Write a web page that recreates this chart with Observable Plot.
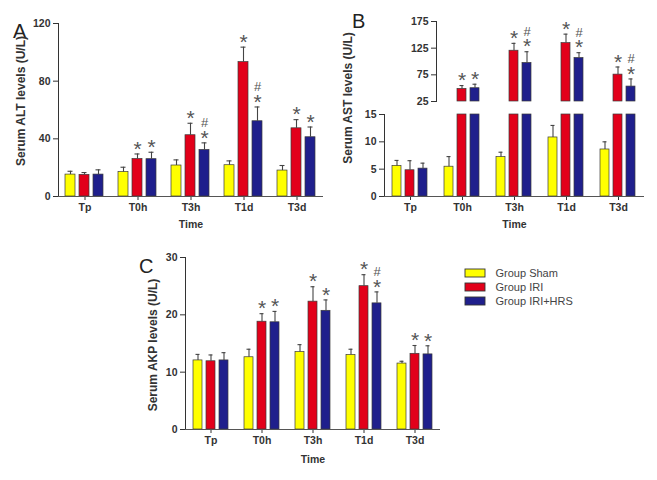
<!DOCTYPE html>
<html><head><meta charset="utf-8">
<script src="https://cdn.jsdelivr.net/npm/d3@7"></script>
<script src="https://cdn.jsdelivr.net/npm/@observablehq/plot@0.6"></script>
<style>
body{margin:0;background:#fff;}
#wrap{position:relative;width:657px;height:480px;background:#fff;overflow:hidden;font-family:"Liberation Sans",Arial,sans-serif;}
.letter{position:absolute;font-size:20px;color:#222;line-height:20px;}
.ytitle{position:absolute;width:220px;height:14px;text-align:center;font-weight:bold;font-size:12px;color:#333;transform:rotate(-90deg);line-height:14px;white-space:nowrap;}
</style></head><body><div id="wrap"></div>
<script>
const times = ["Tp", "T0h", "T3h", "T1d", "T3d"];
const groups = ["Group Sham", "Group IRI", "Group IRI+HRS"];
const colors = ["#ffff00", "#e2001a", "#1f1f8c"];
const noSig = ["", "", "", "", ""];

// Panel A: serum ALT (mean, error)
const altSham = [15.2, 16.9, 21.5, 21.7, 18.0];
const altShamErr = [2.3, 3.4, 3.9, 3.0, 3.5];
const altIri = [15.0, 26.0, 42.5, 93.2, 47.3];
const altIriErr = [1.6, 3.5, 8.3, 10.4, 6.0];
const altHrs = [15.2, 25.9, 32.3, 52.2, 41.1];
const altHrsErr = [3.3, 4.8, 4.9, 9.9, 7.1];
const altIriSig = ["", "*", "*", "*", "*"];
const altHrsSig = ["", "*", "*#", "*#", "*"];
const altTicks = [0, 40, 80, 120];

// Panel B: serum AST (broken axis)
const astSham = [5.6, 5.45, 7.2, 10.8, 8.6];
const astShamErr = [1.0, 1.85, 0.9, 2.2, 1.4];
const astIri = [4.8, 48.6, 120.2, 134.5, 75.4];
const astIriErr = [1.75, 6.3, 13.8, 16.8, 14.3];
const astHrs = [5.1, 49.9, 97.2, 106.5, 53.0];
const astHrsErr = [1.0, 7.5, 21.1, 10.0, 14.3];
const astIriSig = ["", "*", "*", "*", "*"];
const astHrsSig = ["", "*", "*#", "*#", "*#"];
const astTicksLow = [0, 5, 10, 15];
const astTicksHigh = [25, 75, 125, 175];

// Panel C: serum AKP
const akpSham = [12.05, 12.6, 13.5, 13.0, 11.5];
const akpShamErr = [1.05, 1.4, 1.3, 1.0, 0.4];
const akpIri = [11.9, 18.8, 22.3, 25.0, 13.2];
const akpIriErr = [1.1, 1.4, 2.6, 2.0, 1.45];
const akpHrs = [12.05, 18.7, 20.7, 22.0, 13.1];
const akpHrsErr = [1.35, 1.9, 1.9, 2.0, 1.5];
const akpIriSig = ["", "*", "*", "*", "*"];
const akpHrsSig = ["", "*", "*", "*#", "*"];
const akpTicks = [0, 10, 20, 30];

function table(means, errs, sigs) {
  const out = [];
  groups.forEach((g, gi) => times.forEach((t, ti) => out.push({
    time: t, group: g, value: means[gi][ti], top: means[gi][ti] + errs[gi][ti], sig: sigs[gi][ti]
  })));
  return out;
}

const wrap = document.getElementById("wrap");
const FONT = "Liberation Sans, Arial, sans-serif";

function place(svg, left, top) {
  svg.style.position = "absolute";
  svg.style.left = left + "px";
  svg.style.top = top + "px";
  wrap.appendChild(svg);
}

function panel(data, o) {
  const bars = o.barFilter ? data.filter(o.barFilter) : data;
  const errs = o.errFilter ? data.filter(o.errFilter) : data;
  const marks = [
    Plot.barY(bars, {fx: "time", x: "group", y: "value", fill: "group", stroke: "#3a3a3a", strokeWidth: 0.7}),
    Plot.ruleX(errs, {fx: "time", x: "group", y1: "value", y2: "top", stroke: "#444", strokeWidth: 1.1}),
    Plot.tickY(errs, {fx: "time", x: "group", y: "top", stroke: "#444", strokeWidth: 1.1, insetLeft: 2.5, insetRight: 2.5})
  ];
  if (o.sig) {
    marks.push(Plot.text(errs.filter(d => d.sig.includes("*")), {fx: "time", x: "group", y: "top", text: d => "*", dy: -3, fontSize: 21, fontWeight: "normal", fill: "#555", lineHeight: 0.7}));
    marks.push(Plot.text(errs.filter(d => d.sig.includes("#")), {fx: "time", x: "group", y: "top", text: d => "#", dy: -20, fontSize: 13, fontWeight: "normal", fill: "#555"}));
  }
  if (o.xAxis) marks.push(Plot.ruleY([o.domain[0]], {stroke: "#555", strokeWidth: 1.1}));
  const svg = Plot.plot({
    width: o.width, height: o.height,
    marginLeft: o.ml, marginRight: o.mr, marginTop: o.mt, marginBottom: o.mb,
    style: {background: "transparent", fontFamily: FONT, fontSize: "10.5px", fontWeight: "bold", color: "#333", overflow: "visible"},
    fx: {domain: times, padding: 0, axis: o.xAxis ? "bottom" : null, label: o.xAxis ? "Time" : null, labelAnchor: "center", labelOffset: o.labelOffset, tickSize: 4, tickPadding: 3},
    x: {domain: groups, paddingInner: 0.28, paddingOuter: 0.5, axis: null},
    y: {domain: o.domain, ticks: o.ticks, clamp: true, line: true, label: null, tickSize: 5, tickPadding: 3},
    color: {domain: groups, range: colors},
    marks
  });
  place(svg, o.left, o.top);
}

const altData = table([altSham, altIri, altHrs], [altShamErr, altIriErr, altHrsErr], [noSig, altIriSig, altHrsSig]);
const astData = table([astSham, astIri, astHrs], [astShamErr, astIriErr, astHrsErr], [noSig, astIriSig, astHrsSig]);
const akpData = table([akpSham, akpIri, akpHrs], [akpShamErr, akpIriErr, akpHrsErr], [noSig, akpIriSig, akpHrsSig]);

panel(altData, {left: 0, top: 0, width: 330, height: 232, ml: 56, mr: 5, mt: 23, mb: 36, domain: [0, 120], ticks: altTicks, xAxis: true, sig: true, labelOffset: 31});
panel(astData, {left: 343, top: 0, width: 312, height: 106, ml: 40, mr: 10, mt: 21, mb: 5, domain: [25, 175], ticks: astTicksHigh, xAxis: false, sig: true, barFilter: d => d.value > 25, errFilter: d => d.value > 25});
panel(astData, {left: 343, top: 106, width: 312, height: 126, ml: 40, mr: 10, mt: 8, mb: 36, domain: [0, 15], ticks: astTicksLow, xAxis: true, sig: false, errFilter: d => d.value < 15, labelOffset: 31});
panel(akpData, {left: 133, top: 230, width: 319, height: 234, ml: 50, mr: 10, mt: 27, mb: 35, domain: [0, 30], ticks: akpTicks, xAxis: true, sig: true, labelOffset: 33});

function addText(cls, txt, left, top) {
  const d = document.createElement("div");
  d.className = cls; d.textContent = txt;
  d.style.left = left + "px"; d.style.top = top + "px";
  wrap.appendChild(d);
}
addText("letter", "A", 13, 21);
addText("letter", "B", 352, 11);
addText("letter", "C", 139, 256);
addText("ytitle", "Serum ALT levels (U/L)", 21 - 110, 101 - 7);
addText("ytitle", "Serum AST levels (U/L)", 348 - 110, 98 - 7);
addText("ytitle", "Serum AKP levels (U/L)", 153 - 110, 345 - 7);

// Legend, drawn with Plot's band and color scales
const legend = Plot.plot({
  width: 130, height: 42, margin: 0,
  style: {background: "transparent", fontFamily: FONT, fontSize: "11px", overflow: "visible"},
  x: {domain: ["swatch"], range: [0, 20], padding: 0, axis: null},
  y: {domain: groups, range: [0, 42], paddingInner: 0.43, paddingOuter: 0.215, axis: null},
  color: {domain: groups, range: colors},
  marks: [
    Plot.cell(groups, {x: () => "swatch", y: d => d, fill: d => d, stroke: "#333", strokeWidth: 0.9}),
    Plot.text(groups, {x: () => "swatch", y: d => d, text: d => d, dx: 20, textAnchor: "start", fill: "#444"})
  ]
});
place(legend, 465, 266);
</script>
</body></html>
